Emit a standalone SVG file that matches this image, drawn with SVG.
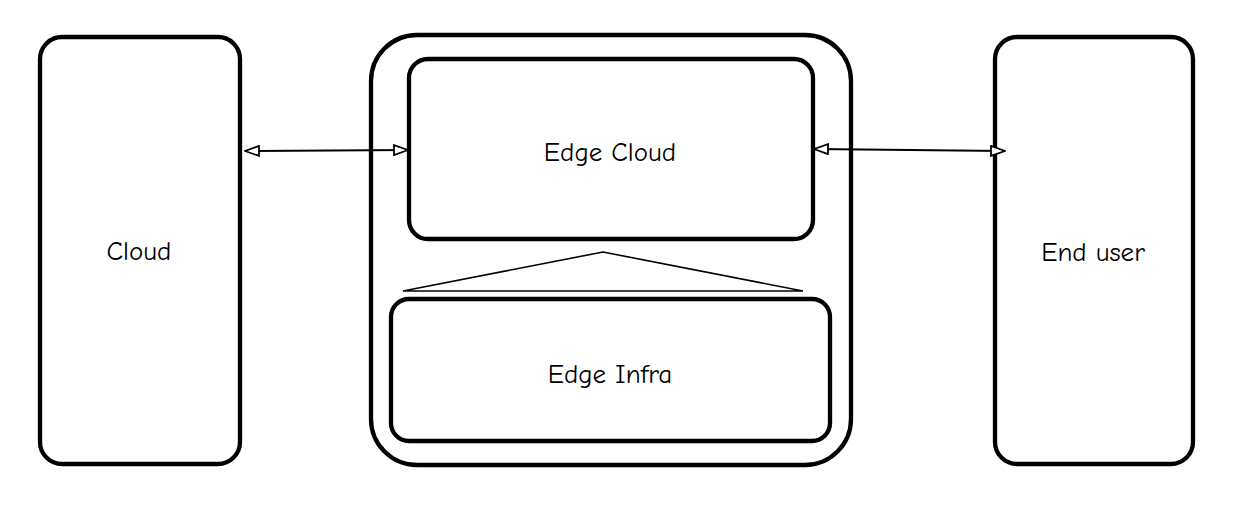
<svg xmlns="http://www.w3.org/2000/svg" width="1255" height="510" viewBox="0 0 1255 510">
<style>
.box{fill:none;stroke:#000;stroke-width:4.3}
.lbl{font-family:"Comic Neue","Liberation Sans",sans-serif;font-size:27px;fill:#000;text-anchor:middle;dominant-baseline:central}
.conn{fill:none;stroke:#000;stroke-width:2}
</style>
<defs>
<marker id="ah" viewBox="0 0 16 12" refX="15" refY="6" markerWidth="16" markerHeight="12" markerUnits="userSpaceOnUse" orient="auto-start-reverse">
<path d="M1,1 L15,6 L1,11 Z" fill="#fff" stroke="#000" stroke-width="1.8"/>
</marker>
</defs>
<g id="cloud">
<rect class="box" x="40" y="37" width="200" height="427" rx="22"/>
<text class="lbl" x="139" y="251">Cloud</text>
</g>
<g id="edge-container">
<rect class="box" x="371" y="35" width="480" height="430" rx="46"/>
</g>
<g id="edge-cloud">
<rect class="box" x="409" y="59" width="404" height="180" rx="19"/>
<text class="lbl" x="610" y="152">Edge Cloud</text>
</g>
<g id="edge-infra">
<rect class="box" x="391" y="299" width="439" height="142" rx="18"/>
<text class="lbl" x="610" y="374">Edge Infra</text>
</g>
<g id="end-user">
<rect class="box" x="995" y="37" width="198" height="427" rx="22"/>
<text class="lbl" x="1093" y="252">End user</text>
</g>
<g id="connectors">
<path class="conn" d="M245,151 L408,150" marker-start="url(#ah)" marker-end="url(#ah)"/>
<path class="conn" d="M814,149 L1005,151" marker-start="url(#ah)" marker-end="url(#ah)"/>
<path d="M403,291 L603,252 L803,291 Z" fill="none" stroke="#000" stroke-width="1.6"/>
</g>
</svg>
